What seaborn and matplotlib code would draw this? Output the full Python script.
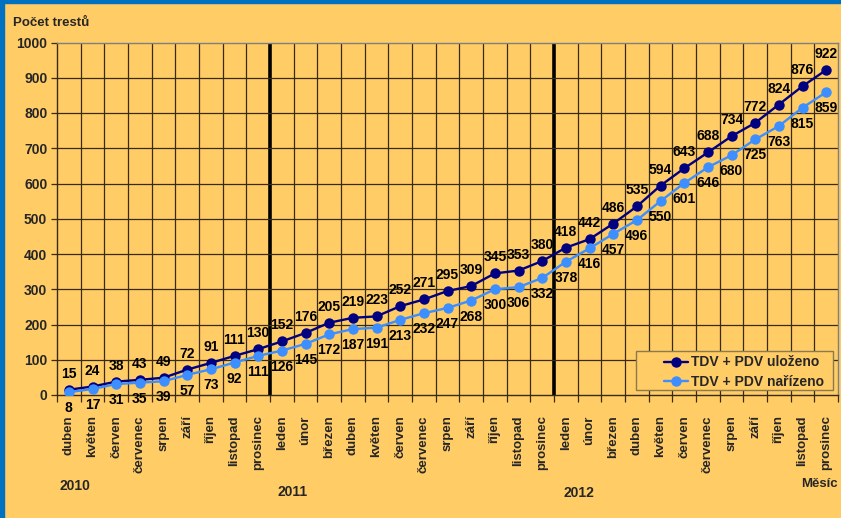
import matplotlib
matplotlib.use("Agg")
import matplotlib.pyplot as plt
import seaborn as sns
import pandas as pd
from matplotlib.patches import Rectangle

months = ["duben", "květen", "červen", "červenec", "srpen", "září", "říjen", "listopad", "prosinec",
          "leden", "únor", "březen", "duben", "květen", "červen", "červenec", "srpen", "září", "říjen", "listopad", "prosinec",
          "leden", "únor", "březen", "duben", "květen", "červen", "červenec", "srpen", "září", "říjen", "listopad", "prosinec"]
ulozeno = [15, 24, 38, 43, 49, 72, 91, 111, 130,
           152, 176, 205, 219, 223, 252, 271, 295, 309, 345, 353, 380,
           418, 442, 486, 535, 594, 643, 688, 734, 772, 824, 876, 922]
narizeno = [8, 17, 31, 35, 39, 57, 73, 92, 111,
            126, 145, 172, 187, 191, 213, 232, 247, 268, 300, 306, 332,
            378, 416, 457, 496, 550, 601, 646, 680, 725, 763, 815, 859]
series_names = ["TDV + PDV uloženo", "TDV + PDV nařízeno"]
years = ["2010", "2011", "2012"]
year_start_idx = [0, 9, 21]

BG = "#FFCC66"
DARK = "#000080"
LIGHT = "#3D8EFF"
FS = 10
W, H = 841, 518

sns.set_theme(style="white")
plt.rcParams["font.family"] = ["Liberation Sans", "DejaVu Sans"]
plt.rcParams["font.weight"] = "bold"

n = len(months)
df = pd.DataFrame({
    "idx": list(range(n)) * 2,
    "value": ulozeno + narizeno,
    "series": [series_names[0]] * n + [series_names[1]] * n,
})

fig = plt.figure(figsize=(W / 100, H / 100), dpi=100)
fig.patch.set_facecolor(BG)
ax = fig.add_axes([57 / W, 1 - 395 / H, (838 - 57) / W, (395 - 42.5) / H])
ax.set_facecolor(BG)

# grid lines
for k in range(1, n):
    thick = k in year_start_idx[1:]
    ax.axvline(k - 0.5, color="black" if thick else "#3a2a10", lw=2.6 if thick else 0.9, zorder=1)
for yv in range(100, 1000, 100):
    ax.axhline(yv, color="#3a2a10", lw=0.9, zorder=1)

sns.lineplot(data=df, x="idx", y="value", hue="series", palette=[DARK, LIGHT],
             marker="o", markersize=7.5, markeredgewidth=0, linewidth=1.7, ax=ax, zorder=3)

for i in range(n):
    ax.annotate(str(ulozeno[i]), (i, ulozeno[i]), xytext=(0, 6.5), textcoords="offset points",
                ha="center", va="bottom", fontsize=FS, fontweight="bold", color="black", zorder=4)
    ax.annotate(str(narizeno[i]), (i, narizeno[i]), xytext=(0, -6.5), textcoords="offset points",
                ha="center", va="top", fontsize=FS, fontweight="bold", color="black", zorder=4)

ax.set_xlim(-0.5, n - 0.5)
ax.set_ylim(0, 1000)
ax.set_yticks(range(0, 1001, 100))
ax.set_yticklabels([str(v) for v in range(0, 1001, 100)], fontsize=FS, fontweight="bold")
ax.set_xticks(range(n))
ax.set_xticklabels(months, rotation=90, fontsize=9.5, fontweight="bold", va="top")
ax.tick_params(axis="x", length=0, pad=14.5)
ax.tick_params(axis="y", length=4, width=0.9, color="#3a2a10", left=True, pad=3)
ax.set_xticks([k - 0.5 for k in range(0, n + 1)], minor=True)
ax.tick_params(axis="x", which="minor", length=5, width=0.9, color="#3a2a10", bottom=True, direction="out")
ax.set_xlabel("")
ax.set_ylabel("")

for s in ["top", "right"]:
    ax.spines[s].set_color("#7f7f7f")
    ax.spines[s].set_linewidth(1.0)
for s in ["left", "bottom"]:
    ax.spines[s].set_color("#3a2a10")
    ax.spines[s].set_linewidth(1.0)

# legend frame drawn separately, legend content placed inside
ax.add_patch(Rectangle((636 / W, 1 - 390 / H), (833 - 636) / W, (390 - 351) / H,
                       transform=fig.transFigure, facecolor=BG, edgecolor="#8a7a50",
                       linewidth=1.0, zorder=5, clip_on=False))
leg = ax.legend(loc="upper left", bbox_to_anchor=(664 / W, 1 - 355.5 / H), bbox_transform=fig.transFigure,
                frameon=False, prop={"weight": "bold", "size": FS}, handlelength=1.75,
                handletextpad=0.2, borderpad=0, labelspacing=0.42, borderaxespad=0)
leg.set_zorder(6)

fig.text(13 / W, 1 - 23 / H, "Počet trestů", fontsize=9.5, fontweight="bold", ha="left", va="center")
fig.text(60 / W, 1 - 486 / H, years[0], fontsize=FS, fontweight="bold", ha="left", va="center")
fig.text(277 / W, 1 - 492 / H, years[1], fontsize=FS, fontweight="bold", ha="left", va="center")
fig.text(563 / W, 1 - 493 / H, years[2], fontsize=FS, fontweight="bold", ha="left", va="center")
fig.text(838 / W, 1 - 484 / H, "Měsíc", fontsize=9.5, fontweight="bold", ha="right", va="center")

# blue frame on left and top
fig.patches.append(Rectangle((0, 0), 4 / W, 1, transform=fig.transFigure, color="#0070C0", zorder=10))
fig.patches.append(Rectangle((0, 1 - 2.5 / H), 1, 2.5 / H, transform=fig.transFigure, color="#0070C0", zorder=10))

fig.savefig("out.png", dpi=100, facecolor=BG)
